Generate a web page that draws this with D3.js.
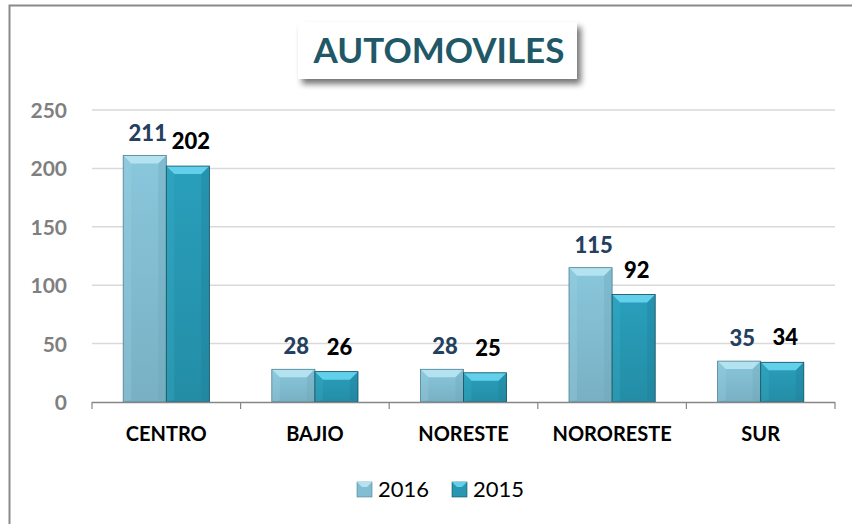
<!DOCTYPE html>
<html><head><meta charset="utf-8">
<script src="https://cdn.jsdelivr.net/npm/d3@7"></script>
<style>html,body{margin:0;padding:0;background:#fff;}svg{display:block;}</style>
</head><body>
<svg id="c" width="852" height="524"></svg>
<script>
const categories = ["CENTRO","BAJIO","NORESTE","NORORESTE","SUR"];
const series = ["2016","2015"];
const values2016 = [211, 28, 28, 115, 35];
const values2015 = [202, 26, 25, 92, 34];
const yTicks = [0, 50, 100, 150, 200, 250];
const title = "AUTOMOVILES";

const seriesValues = {"2016": values2016, "2015": values2015};
const palette = {
  "2016": {body:"#82bdd1", top:"#b3e2f0", left:"#9ad0e0", right:"#6ea5b8", stroke:"#4f8193", label:"#243f60"},
  "2015": {body:"#2797b2", top:"#62d0ea", left:"#3aaec8", right:"#1f7f97", stroke:"#134f5f", label:"#000000"}
};
const font = "Lato, 'Open Sans', sans-serif";

const svg = d3.select("#c");
const defs = svg.append("defs");
const sh = defs.append("filter").attr("id","shadow").attr("x","-20%").attr("y","-30%").attr("width","140%").attr("height","170%");
sh.append("feGaussianBlur").attr("in","SourceAlpha").attr("stdDeviation",3);
sh.append("feOffset").attr("dx",4).attr("dy",5).attr("result","ob");
sh.append("feComponentTransfer").append("feFuncA").attr("type","linear").attr("slope",0.55);
const m = sh.append("feMerge"); m.append("feMergeNode"); m.append("feMergeNode").attr("in","SourceGraphic");

series.forEach(s => {
  const g = defs.append("linearGradient").attr("id","g"+s).attr("x1",0).attr("y1",0).attr("x2",0).attr("y2",1);
  g.append("stop").attr("offset","0%").attr("stop-color", d3.color(palette[s].body).brighter(0.15));
  g.append("stop").attr("offset","100%").attr("stop-color", d3.color(palette[s].body).darker(0.2));
});

// outer border
svg.append("path").attr("d","M9.5,524 L9.5,5.5 L852,5.5").attr("fill","none").attr("stroke","#8a8a8a").attr("stroke-width",2);

const x0 = d3.scaleBand().domain(categories).range([92, 835]).padding(0);
const x1 = d3.scaleBand().domain(series).range([x0.bandwidth()*0.21, x0.bandwidth()*0.79]).padding(0);
const y = d3.scaleLinear().domain([0, 250]).range([402, 110]);

// gridlines
svg.append("g").selectAll("line").data(yTicks.filter(t => t > 0)).join("line")
  .attr("x1", 92).attr("x2", 835).attr("y1", d => y(d)).attr("y2", d => y(d))
  .attr("stroke", "#d9d9d9").attr("stroke-width", 1.5);

// y axis labels
const yAxis = d3.axisLeft(y).tickValues(yTicks).tickSize(0).tickPadding(0);
const ya = svg.append("g").attr("transform","translate(67,0)").call(yAxis);
ya.select(".domain").remove();
ya.selectAll("text").attr("font-family", font).attr("font-weight","bold").attr("font-size", 21).attr("fill","#7f7f7f").attr("dy","0.36em");

// bars
const b = 8;
const cat = svg.append("g").selectAll("g").data(categories).join("g")
  .attr("transform", d => `translate(${x0(d)},0)`);
series.forEach(s => {
  const p = palette[s];
  const bars = cat.append("g").datum((c, i) => ({c, v: seriesValues[s][i]}));
  bars.each(function(d){
    const g = d3.select(this);
    const bx = x1(s), w = x1.bandwidth(), top = y(d.v), h = y(0) - y(d.v);
    const bb = Math.min(b, h/2);
    g.append("rect").attr("x", bx).attr("y", top).attr("width", w).attr("height", h).attr("fill", `url(#g${s})`);
    g.append("polygon").attr("points", [[bx,top],[bx+w,top],[bx+w-bb,top+bb],[bx+bb,top+bb]].join(" ")).attr("fill", p.top);
    g.append("polygon").attr("points", [[bx,top],[bx+bb,top+bb],[bx+bb,top+h-2],[bx,top+h]].join(" ")).attr("fill", p.left).attr("opacity",0.3);
    g.append("polygon").attr("points", [[bx+w,top],[bx+w-bb,top+bb],[bx+w-bb,top+h-2],[bx+w,top+h]].join(" ")).attr("fill", p.right).attr("opacity",0.35);
    g.append("rect").attr("x", bx).attr("y", top).attr("width", w).attr("height", h).attr("fill","none").attr("stroke", p.stroke).attr("stroke-width",0.8);
    g.append("text").attr("x", bx + w/2 + 3).attr("y", top - (s === "2016" ? 15 : 17))
      .attr("text-anchor","middle").attr("font-family", font).attr("font-weight","900").attr("font-size", 22)
      .attr("fill", p.label).text(d.v);
  });
});

// x axis
const xAxis = d3.axisBottom(x0).tickSize(0).tickPadding(0);
const xa = svg.append("g").attr("transform","translate(0,402)").call(xAxis);
xa.select(".domain").remove();
xa.selectAll("text").attr("font-family", font).attr("font-weight","bold").attr("font-size", 20).attr("fill","#000").attr("dy", 0).attr("y", 39);
svg.append("line").attr("x1",92).attr("x2",835).attr("y1",402.5).attr("y2",402.5).attr("stroke","#868686").attr("stroke-width",1.5);
svg.append("g").selectAll("line").data(d3.range(categories.length + 1)).join("line")
  .attr("x1", i => 92 + i * x0.step()).attr("x2", i => 92 + i * x0.step())
  .attr("y1", 402).attr("y2", 409).attr("stroke","#868686").attr("stroke-width",1.2);

// title
const tg = svg.append("g");
tg.append("rect").attr("x", 298).attr("y", 22).attr("width", 279).attr("height", 57).attr("fill","#fff").attr("filter","url(#shadow)");
tg.append("text").attr("x", 439).attr("y", 63).attr("text-anchor","middle").attr("font-family", font).attr("font-weight","bold")
  .attr("font-size", 35).attr("fill","#215868").text(title);

// legend
const lg = svg.append("g").selectAll("g").data(series).join("g")
  .attr("transform", (d, i) => `translate(${357 + i * 95},482)`);
lg.append("rect").attr("width",15).attr("height",15).attr("fill", d => palette[d].body).attr("stroke", d => palette[d].stroke).attr("stroke-width",0.6);
lg.append("polygon").attr("points","0,0 15,0 10,5 5,5").attr("fill", d => palette[d].top);
lg.append("text").attr("x", 21).attr("y", 15).attr("font-family", font).attr("font-size", 22).attr("fill","#000").text(d => d);
</script>
</body></html>
